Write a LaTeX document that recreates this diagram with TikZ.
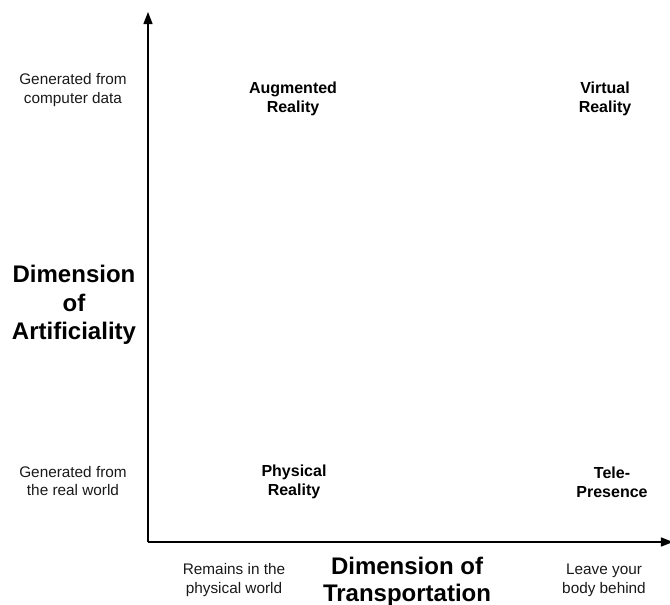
\documentclass[tikz,border=0pt]{standalone}
\usepackage{fontspec}
\setmainfont{Liberation Sans}
\usetikzlibrary{positioning,arrows.meta}
\definecolor{AxisBlack}{RGB}{0,0,0}
\definecolor{NoteGrey}{RGB}{25,25,25}
\tikzset{
  axis/.style={-{Triangle[length=3.2mm,width=2.4mm]},line width=1pt,draw=AxisBlack},
  note/.style={align=center,font=\fontsize{11.5}{14.2}\selectfont,text=NoteGrey,inner sep=0pt},
  realm/.style={align=center,font=\fontsize{12}{14.2}\selectfont\bfseries,inner sep=0pt},
  dimlabel/.style={align=center,font=\fontsize{18}{21.5}\selectfont\bfseries,inner sep=0pt}
}

\begin{document}
\begin{tikzpicture}[x=0.75pt,y=-0.75pt]
  \useasboundingbox (0,0) rectangle (670,605);
  % axes
  \coordinate (origin) at (148,542);
  \coordinate (ytop) at (148,12);
  \coordinate (xend) at (673,542);
  \draw[axis] (origin) -- (ytop);
  \draw[axis] (origin) -- (xend);
  % vertical axis notes
  \node[note] (computer) at (73,90) {Generated from\\computer data};
  \node[dimlabel] (artif) at (74,305) {Dimension\\of\\Artificiality};
  \node[note] (realworld) at (73,481) {Generated from\\the real world};
  % quadrants
  \node[realm] (augmented) at (293,99) {Augmented\\Reality};
  \node[realm] (virtual) at (605,99) {Virtual\\Reality};
  \node[realm] (physical) at (294,482) {Physical\\Reality};
  \node[realm] (tele) at (612,482) {Tele-\\Presence};
  % horizontal axis notes
  \node[note] (remains) at (234,580) {Remains in the\\physical world};
  \node[dimlabel,font=\fontsize{18}{20.5}\selectfont\bfseries] (transport) at (407,582) {Dimension of\\Transportation};
  \node[note] (behind) at (604,580) {Leave your\\body behind};
\end{tikzpicture}
\end{document}
